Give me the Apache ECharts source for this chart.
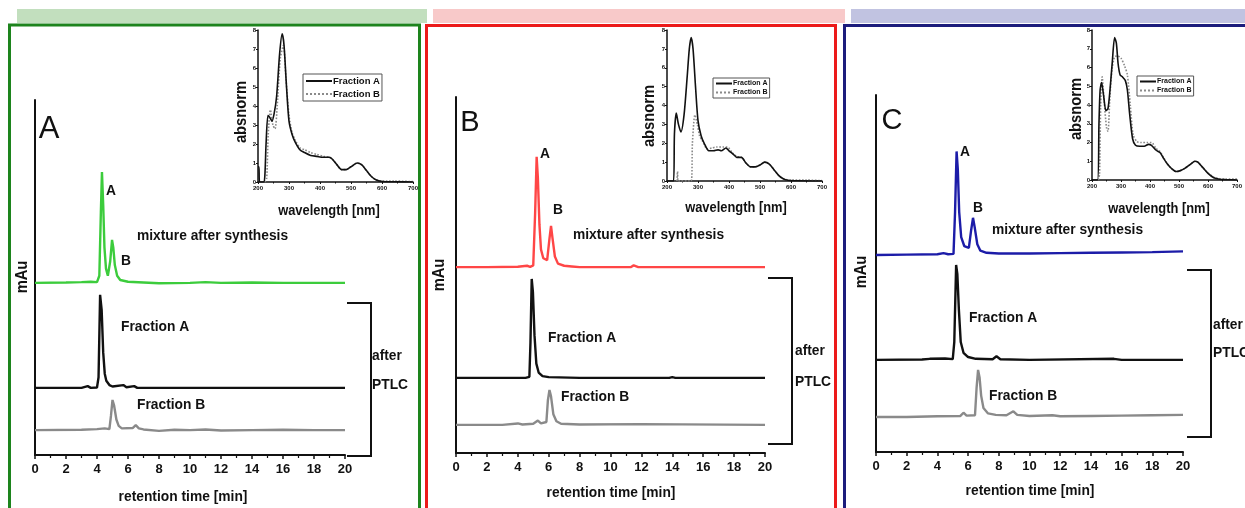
<!DOCTYPE html>
<html><head><meta charset="utf-8">
<script src="https://cdn.jsdelivr.net/npm/echarts@6/dist/echarts.min.js"></script>
<style>html,body{margin:0;padding:0;background:#fff}#c{width:1245px;height:508px}</style>
</head><body><div id="c"></div>
<script>
// ---------- DATA ----------
// Chromatograms: [retention time (min), signal (rel. mAu)]
const mixA   = [[0,0],[2,0.1],[3,0.2],[3.6,0.3],[4.0,0.2],[4.15,2],[4.25,20],[4.32,31.2],[4.4,22],[4.48,10],[4.58,4],[4.7,2],[4.85,6],[4.97,12.1],[5.05,10],[5.15,5],[5.3,2],[5.5,0.8],[6,0.3],[7,0.1],[8,-0.1],[10,0],[11,0.2],[12,0],[14,0.1],[16,0],[18,0],[20,0]];
const fracA_A = [[0,0],[3,0],[3.4,0.5],[3.6,0],[4.0,0.1],[4.1,3],[4.2,26.2],[4.3,22],[4.4,10],[4.5,4],[4.6,2],[4.8,0.8],[5.0,0.4],[5.7,0.8],[5.9,0.2],[6.4,0.5],[6.6,0],[8,0],[20,0]];
const fracB_A = [[0,0],[3,0.1],[4,0.3],[4.5,0.5],[4.8,0.3],[4.9,4],[5.0,8.5],[5.1,7],[5.25,3],[5.4,1.2],[5.6,0.5],[6.3,0.6],[6.5,1.4],[6.7,0.5],[7,0.2],[8,-0.2],[9,0.1],[10,0],[11,0.2],[12,-0.1],[14,0],[16,0.1],[18,0],[20,0]];

const mixB   = [[0,0],[2,0],[4,0.1],[4.6,0.4],[4.8,0.1],[5.0,0.5],[5.12,15],[5.22,31],[5.3,25],[5.4,12],[5.5,5],[5.65,2.5],[5.9,2],[6.05,8],[6.15,11.6],[6.25,8],[6.4,3],[6.6,1],[7,0.4],[7.5,0.2],[8,0],[11.3,0],[11.5,0.5],[11.8,0],[20,0]];
const fracA_B = [[0,0],[4.5,0],[4.75,0.3],[4.82,10],[4.9,27.8],[4.98,24],[5.08,12],[5.2,4],[5.35,1.5],[5.6,0.5],[6,0.2],[8,0],[13.8,0],[14,0.2],[14.2,0],[20,0]];
const fracB_B = [[0,0],[3,0],[4.0,0.4],[4.3,0.1],[5.0,0.3],[5.3,1.2],[5.5,0.4],[5.85,0.8],[5.95,7],[6.05,9.8],[6.15,8],[6.3,3],[6.5,1],[6.8,0.3],[8,0.1],[12,0.2],[20,0]];

const mixC   = [[0,0],[2,0.1],[4,0.2],[4.4,0.5],[4.7,0.2],[5.05,0.3],[5.15,12],[5.25,29],[5.33,24],[5.42,12],[5.55,5],[5.75,2.5],[6.05,2],[6.2,7],[6.32,10.4],[6.42,8],[6.6,3],[6.8,1.2],[7.2,0.6],[8,0.4],[10,0.4],[12,0.5],[14,0.6],[16,0.7],[18,0.8],[20,1.0]];
const fracA_C = [[0,0],[3,0.1],[3.5,0.3],[4.5,0.4],[5.0,0.2],[5.1,5],[5.22,26.6],[5.3,24],[5.4,14],[5.52,5],[5.7,2],[6,0.8],[6.5,0.3],[7.6,0.2],[7.85,1.0],[8.1,0.2],[10,0],[15.5,0.3],[16,0],[20,0]];
const fracB_C = [[0,0],[2,0],[4,0.2],[5.5,0.3],[5.7,1.2],[5.9,0.4],[6.45,0.5],[6.55,8],[6.65,13.2],[6.75,11],[6.85,6],[7.0,2.5],[7.3,1],[7.8,0.6],[8.5,0.5],[8.95,1.6],[9.2,0.6],[10,0.3],[11.5,0.5],[12,0.2],[14,0.3],[16,0.4],[18,0.5],[20,0.6]];

// Inset spectra: [wavelength (nm), abs_norm]
const specA_A = [[200,0.8],[203,0.8],[205,0],[218,0],[222,0.3],[226,2.0],[232,3.5],[238,3.4],[245,3.2],[252,3.6],[260,4.5],[270,6.8],[278,7.8],[284,7.2],[292,5.0],[300,3.2],[310,2.5],[320,2.1],[335,1.7],[350,1.55],[370,1.4],[390,1.35],[410,1.3],[430,1.3],[440,1.2],[455,0.9],[470,0.65],[485,0.65],[500,0.8],[520,1.0],[535,0.9],[550,0.6],[565,0.3],[580,0.12],[600,0.03],[640,0.01],[700,0]];
const specB_A = [[222,0],[228,0.2],[233,2.5],[240,3.8],[248,3.0],[255,2.8],[262,4.0],[272,6.5],[282,7.2],[290,5.5],[300,3.5],[310,2.6],[320,2.2],[335,1.8],[350,1.7],[370,1.55],[390,1.45],[410,1.35],[430,1.3],[440,1.2],[455,0.9],[470,0.65],[485,0.65],[500,0.8],[520,1.0],[535,0.9],[550,0.6],[565,0.3],[580,0.12],[600,0.05],[640,0.05],[700,0.02]];
const specA_B = [[200,0],[221,0],[224,2.5],[230,3.6],[237,3.0],[245,2.6],[255,3.5],[265,5.5],[272,7.0],[278,7.6],[284,7.0],[292,5.0],[300,3.2],[310,2.4],[320,2.0],[335,1.6],[350,1.6],[365,1.65],[375,1.6],[390,1.75],[400,1.6],[415,1.4],[425,1.25],[440,1.25],[455,0.95],[470,0.75],[485,0.75],[500,0.85],[515,1.0],[530,0.9],[545,0.6],[560,0.3],[575,0.12],[590,0.04],[620,0.01],[700,0]];
const specB_B = [[232,0],[234,0.5],[236,0],[278,0],[282,2.0],[290,3.5],[298,3.0],[305,2.4],[315,2.1],[330,1.7],[345,1.75],[360,1.8],[380,1.8],[395,1.8],[410,1.5],[425,1.3],[440,1.25],[455,0.95],[470,0.75],[485,0.75],[500,0.85],[515,1.0],[530,0.9],[545,0.6],[560,0.3],[575,0.12],[600,0.05],[650,0.05],[700,0.02]];
const specA_C = [[200,0],[219,0],[224,3.0],[228,4.8],[233,5.2],[240,4.5],[248,3.7],[255,3.8],[262,4.8],[270,6.3],[278,7.6],[284,7.3],[290,6.2],[297,5.6],[305,5.5],[315,5.3],[322,4.8],[330,3.5],[340,2.2],[350,1.85],[365,1.8],[380,1.8],[395,1.9],[405,1.85],[420,1.6],[435,1.45],[445,1.2],[460,0.85],[475,0.6],[490,0.45],[505,0.5],[520,0.62],[540,0.85],[555,1.0],[565,0.95],[580,0.7],[600,0.35],[620,0.12],[640,0.04],[660,0.02],[700,0]];
const specB_C = [[222,0],[226,0.3],[230,4.0],[235,5.5],[242,4.2],[250,2.8],[255,2.6],[262,4.5],[270,6.0],[280,6.6],[290,6.6],[300,6.5],[312,6.1],[322,5.6],[332,4.0],[342,2.4],[355,2.05],[370,2.0],[390,2.0],[405,2.0],[420,1.7],[435,1.5],[445,1.25],[460,0.85],[475,0.6],[490,0.45],[505,0.5],[520,0.62],[540,0.85],[555,1.0],[565,0.95],[580,0.7],[600,0.38],[620,0.15],[640,0.07],[660,0.05],[700,0.05]];

const xTicksMain = [0,2,4,6,8,10,12,14,16,18,20];
const legendNames = ['Fraction A','Fraction B'];

// ---------- LAYOUT ----------
const FONT = "'Liberation Sans',Arial,sans-serif";
const SX = 0.92; // horizontal condensing of bold labels
const panels = [
  {main:{left:35,top:100,width:310,height:355}, inset:{left:258,top:30,width:155,height:152},
   offs:[48.5,18.9,7.0], color:'#3ccc3c', data:[mixA,fracA_A,fracB_A], spec:[specA_A,specB_A],
   legend:{left:303,top:74,fs:9.5,iw:26,ih:10,gap:3}},
  {main:{left:456,top:97,width:309,height:356}, inset:{left:667,top:30,width:155,height:151},
   offs:[52.2,21.1,7.9], color:'#ff4646', data:[mixB,fracA_B,fracB_B], spec:[specA_B,specB_B],
   legend:{left:713,top:78,fs:7,iw:16,ih:7,gap:2}},
  {main:{left:876,top:95,width:307,height:357}, inset:{left:1092,top:30,width:151,height:150},
   offs:[55.2,25.8,9.8], color:'#1c1ca8', data:[mixC,fracA_C,fracB_C], spec:[specA_C,specB_C],
   legend:{left:1137,top:76,fs:7,iw:16,ih:7,gap:2}}
];
const traceColors = [null,'#111111','#8a8a8a'];

const grids=[], xAxes=[], yAxes=[], series=[], legends=[];
panels.forEach((p,i)=>{
  grids.push(Object.assign({containLabel:false},p.main));
  grids.push(Object.assign({containLabel:false},p.inset));
  const gm=2*i, gi=2*i+1;
  xAxes.push({gridIndex:gm,type:'value',min:0,max:20,interval:2,
    axisLine:{lineStyle:{color:'#111',width:2}},
    axisTick:{length:4,lineStyle:{color:'#111',width:1.5}},
    minorTick:{show:true,splitNumber:2,length:3,lineStyle:{color:'#111',width:1.2}},
    splitLine:{show:false},
    axisLabel:{color:'#111',fontFamily:FONT,fontWeight:'bold',fontSize:13,margin:8,
      formatter:v=>xTicksMain.includes(v)?String(v):''}});
  yAxes.push({gridIndex:gm,type:'value',min:0,max:100,
    axisLine:{show:true,lineStyle:{color:'#111',width:2}},
    axisTick:{show:false},axisLabel:{show:false},splitLine:{show:false}});
  xAxes.push({gridIndex:gi,type:'value',min:200,max:700,interval:100,
    axisLine:{lineStyle:{color:'#111',width:1.5}},
    axisTick:{length:2,lineStyle:{color:'#111'}},
    minorTick:{show:true,splitNumber:2,length:1.5,lineStyle:{color:'#111'}},
    splitLine:{show:false},
    axisLabel:{color:'#111',fontFamily:FONT,fontWeight:'bold',fontSize:6,margin:3}});
  yAxes.push({gridIndex:gi,type:'value',min:0,max:8,interval:1,
    axisLine:{show:true,lineStyle:{color:'#111',width:1.5}},
    axisTick:{show:true,length:2,lineStyle:{color:'#111'}},
    splitLine:{show:false},
    axisLabel:{color:'#111',fontFamily:FONT,fontWeight:'bold',fontSize:6,margin:2}});
  p.data.forEach((d,k)=>{
    series.push({type:'line',name:'trace'+i+k,xAxisIndex:gm,yAxisIndex:gm,
      data:d.map(pt=>[pt[0],pt[1]+p.offs[k]]),showSymbol:false,symbol:'none',silent:true,
      lineStyle:{color:k===0?p.color:traceColors[k],width:2.4},itemStyle:{color:k===0?p.color:traceColors[k]}});
  });
  series.push({type:'line',name:'Fraction A',xAxisIndex:gi,yAxisIndex:gi,data:p.spec[0],
    symbol:'none',smooth:0.25,lineStyle:{color:'#111',width:1.6},itemStyle:{color:'#111'},z:3});
  series.push({type:'line',name:'Fraction B',xAxisIndex:gi,yAxisIndex:gi,data:p.spec[1],
    symbol:'none',smooth:0.25,lineStyle:{color:'#8a8a8a',width:1.6,type:'dotted'},itemStyle:{color:'#8a8a8a'},z:2});
  legends.push({data:legendNames,left:p.legend.left,top:p.legend.top,orient:'vertical',
    selectedMode:false,itemGap:p.legend.gap,itemWidth:p.legend.iw,itemHeight:p.legend.ih,padding:[2,2,2,2],
    borderColor:'#555',borderWidth:1,borderRadius:0,backgroundColor:'#fff',
    itemStyle:{opacity:0,borderWidth:0},
    textStyle:{color:'#111',fontFamily:FONT,fontWeight:'bold',fontSize:p.legend.fs,padding:[0,0,0,-4]}});
});

// ---------- GRAPHIC (frames, labels) ----------
function txt(x,y,t,opt){
  opt=opt||{};
  return {type:'text',x:x,y:y,rotation:opt.rot||0,scaleX:opt.sx||SX,z:50,silent:true,
    style:{text:t,fill:'#111',font:(opt.weight||'bold')+' '+(opt.size||15)+'px '+(opt.family||FONT),
      textAlign:opt.align||'left',textVerticalAlign:'middle'}};
}
const g=[];
// colored strips
g.push({type:'rect',shape:{x:17,y:9,width:410,height:14},style:{fill:'#c2dfbe'},z:0});
g.push({type:'rect',shape:{x:433,y:9,width:412,height:14},style:{fill:'#f8c9c9'},z:0});
g.push({type:'rect',shape:{x:851,y:9,width:400,height:14},style:{fill:'#c1c3e1'},z:0});
// frames
g.push({type:'rect',shape:{x:9.5,y:25,width:410,height:500},style:{fill:null,stroke:'#1d841d',lineWidth:3},z:1});
g.push({type:'rect',shape:{x:426.5,y:25.5,width:409,height:500},style:{fill:null,stroke:'#ec1a1a',lineWidth:3},z:1});
g.push({type:'rect',shape:{x:844.5,y:25.5,width:420,height:500},style:{fill:null,stroke:'#1c1c7c',lineWidth:3},z:1});
// panel letters
g.push(txt(49,129,'A',{weight:'normal',size:31,align:'center',sx:1}));
g.push(txt(470,123,'B',{weight:'normal',size:29,align:'center',sx:1}));
g.push(txt(892,121,'C',{weight:'normal',size:29,align:'center',sx:1}));
// labels per panel
const lbl = [
  {pa:[111,191],pb:[126,261],mix:[137,236],fa:[121,327],fb:[137,405],after:[372,356],ptlc:[372,385],
   br:[347,303,371,456],rt:[183,497],mau:[23,277],wl:[329,211],abs:[242,112]},
  {pa:[545,154],pb:[558,210],mix:[573,235],fa:[548,338],fb:[561,397],after:[795,351],ptlc:[795,382],
   br:[768,278,792,444],rt:[611,493],mau:[440,275],wl:[736,208],abs:[650,116]},
  {pa:[965,152],pb:[978,208],mix:[992,230],fa:[969,318],fb:[989,396],after:[1213,325],ptlc:[1213,353],
   br:[1187,270,1211,437],rt:[1030,491],mau:[862,272],wl:[1159,209],abs:[1077,109]}
];
lbl.forEach(L=>{
  g.push(txt(L.pa[0],L.pa[1],'A',{align:'center',size:15}));
  g.push(txt(L.pb[0],L.pb[1],'B',{align:'center',size:15}));
  g.push(txt(L.mix[0],L.mix[1],'mixture after synthesis',{size:15}));
  g.push(txt(L.fa[0],L.fa[1],'Fraction A',{size:15}));
  g.push(txt(L.fb[0],L.fb[1],'Fraction B',{size:15}));
  g.push(txt(L.after[0],L.after[1],'after',{size:15}));
  g.push(txt(L.ptlc[0],L.ptlc[1],'PTLC',{size:15}));
  g.push(txt(L.rt[0],L.rt[1],'retention time [min]',{align:'center',size:15}));
  g.push(txt(L.mau[0],L.mau[1],'mAu',{align:'center',size:16,rot:Math.PI/2}));
  g.push(txt(L.wl[0],L.wl[1],'wavelength [nm]',{align:'center',size:14}));
  g.push(txt(L.abs[0],L.abs[1],'absnorm',{align:'center',size:16,rot:Math.PI/2}));
  const b=L.br;
  g.push({type:'polyline',shape:{points:[[b[0],b[1]],[b[2],b[1]],[b[2],b[3]],[b[0],b[3]]]},
    style:{stroke:'#111',lineWidth:2,fill:null},z:40,silent:true});
});

const chart=echarts.init(document.getElementById('c'),null,{renderer:'canvas'});
chart.setOption({animation:false,backgroundColor:'#fff',
  grid:grids,xAxis:xAxes,yAxis:yAxes,series:series,legend:legends,graphic:g});
</script></body></html>
